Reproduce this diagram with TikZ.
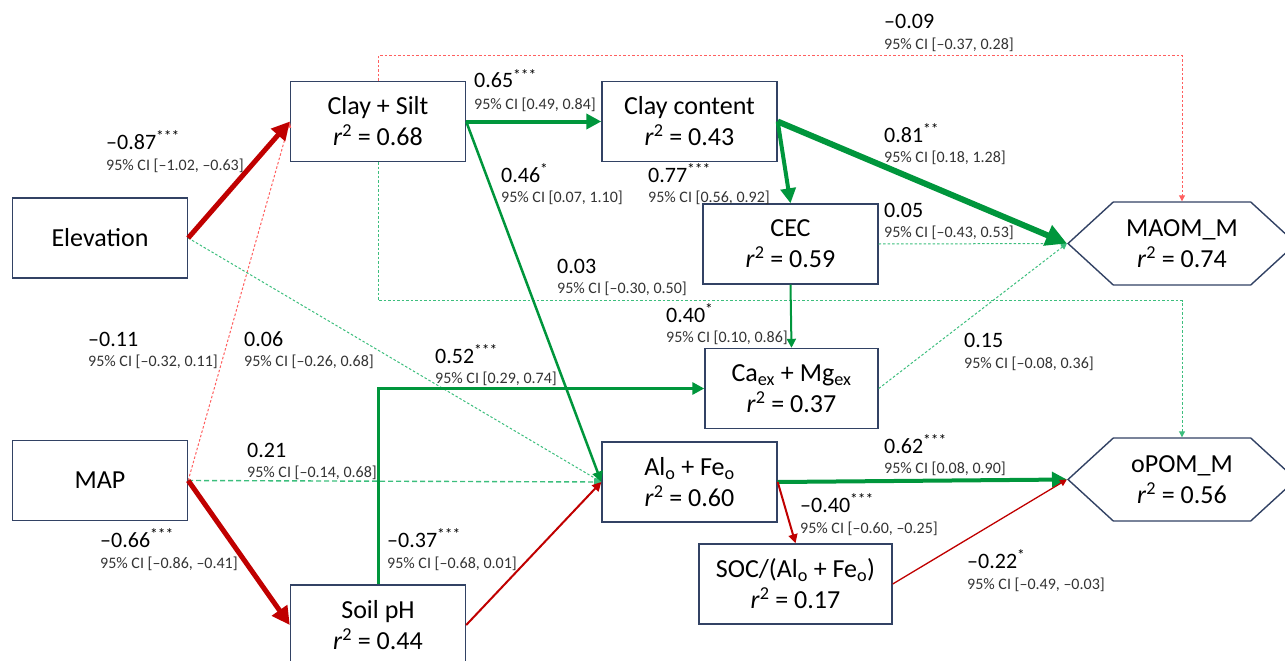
\documentclass[tikz,border=0pt]{standalone}
\usepackage{fontspec}
\setmainfont{Carlito}
\usetikzlibrary{arrows.meta, shapes.symbols}
\definecolor{boxline}{RGB}{50, 66, 100}
\definecolor{negred}{RGB}{192, 0, 0}
\definecolor{posgreen}{RGB}{0, 150, 60}
\definecolor{nsred}{RGB}{255, 95, 95}
\definecolor{nsgreen}{RGB}{60, 190, 125}

\begin{document}
\begin{tikzpicture}[x=1pt, y=-1pt,
    >={Triangle[length=3pt 3, width=3pt 3]},
    var/.style={
        draw=boxline, line width=1.4pt, fill=white,
        minimum width=175pt, minimum height=80pt, inner sep=0pt,
        align=center, font=\fontsize{26}{31}\selectfont
    },
    resp/.style={
        signal, signal to=east and west, signal pointer angle=85,
        draw=boxline, line width=1.4pt, fill=white,
        minimum width=228pt, minimum height=83pt, inner sep=0pt,
        align=center, font=\fontsize{26}{31}\selectfont
    },
    coef/.style={anchor=base west, inner sep=0pt, text=black,
        font=\fontsize{22}{26}\selectfont},
    cilab/.style={anchor=base west, inner sep=0pt, text=black!80,
        font=\fontsize{16}{19}\selectfont},
    negpath/.style={->, negred},
    pospath/.style={->, posgreen},
    nsneg/.style={->, nsred, line width=1pt, dash pattern=on 2.5pt off 2pt},
    nspos/.style={->, nsgreen, line width=1pt, dash pattern=on 2.5pt off 2pt},
]
    \useasboundingbox (0,0) rectangle (1285,661);

    % variables
    \node[var] (elev)   at (100,238)     {Elevation};
    \node[var] (map)    at (100,480.5)   {MAP};
    \node[var] (clsilt) at (378,121.5)   {Clay + Silt\\\textit{r}\textsuperscript{2} = 0.68};
    \node[var] (clay)   at (689.5,121.5) {Clay content\\\textit{r}\textsuperscript{2} = 0.43};
    \node[var] (cec)    at (790.5,244)   {CEC\\\textit{r}\textsuperscript{2} = 0.59};
    \node[var, minimum width=173pt] (camg) at (791.5,388.5)
        {Ca\textsubscript{ex} + Mg\textsubscript{ex}\\\textit{r}\textsuperscript{2} = 0.37};
    \node[var] (alfe)   at (689.5,482)   {Al\textsubscript{o} + Fe\textsubscript{o}\\\textit{r}\textsuperscript{2} = 0.60};
    \node[var, minimum width=193pt] (soc) at (795.5,584)
        {SOC/(Al\textsubscript{o} + Fe\textsubscript{o})\\\textit{r}\textsuperscript{2} = 0.17};
    \node[var] (ph)     at (378,625)     {Soil pH\\\textit{r}\textsuperscript{2} = 0.44};
    \node[resp] (maom)  at (1182,243.5)  {MAOM\_M\\\textit{r}\textsuperscript{2} = 0.74};
    \node[resp] (opom)  at (1182,479.5)  {oPOM\_M\\\textit{r}\textsuperscript{2} = 0.56};

    % non-significant paths
    \draw[nsneg] (map.east) -- (clsilt.west);
    \draw[nspos] (elev.east) -- (alfe.west);
    \draw[nspos, line width=1.4pt, dash pattern=on 5pt off 3pt] (map.east) -- (alfe.west);
    \draw[nsneg] (clsilt.north) -- ++(0,-25) -| (maom.north);
    \draw[nspos] (clsilt.south) -- ++(0,138.5) -| (opom.north);
    \draw[nspos] (cec.east) -- (maom.west);
    \draw[nspos] (camg.east) -- (maom.west);

    % significant paths
    \draw[negpath, line width=5pt]   (elev.east) -- (clsilt.west);
    \draw[negpath, line width=5pt]   (map.east) -- (ph.west);
    \draw[pospath, line width=3pt]   (ph.north) |- (camg.west);
    \draw[negpath, line width=2pt]   (ph.east) -- (alfe.west);
    \draw[pospath, line width=4pt]   (clsilt.east) -- (clay.west);
    \draw[pospath, line width=2.5pt] (clsilt.east) -- (alfe.west);
    \draw[pospath, line width=4pt]   (clay.east) -- (cec.north);
    \draw[pospath, line width=6pt]   (clay.east) -- (maom.west);
    \draw[pospath, line width=2pt]   (cec.south) -- (camg.north);
    \draw[pospath, line width=4pt]   (alfe.east) -- (opom.west);
    \draw[negpath, line width=2pt]   (alfe.east) -- (soc.north);
    \draw[negpath, line width=1.3pt] (soc.east) -- (opom.west);

    % path coefficients
    \node[coef]  (k1)   at (106,149) {--0.87\textsuperscript{***}};
    \node[cilab] (k1ci) at (106,170) {95\% CI [--1.02, --0.63]};
    \node[coef]  (k2)   at (474,88)  {0.65\textsuperscript{***}};
    \node[cilab] (k2ci) at (474,109) {95\% CI [0.49, 0.84]};
    \node[coef]  (k3)   at (501,182) {0.46\textsuperscript{*}};
    \node[cilab] (k3ci) at (501,202) {95\% CI [0.07, 1.10]};
    \node[coef]  (k4)   at (648,182) {0.77\textsuperscript{***}};
    \node[cilab] (k4ci) at (648,202) {95\% CI [0.56, 0.92]};
    \node[coef]  (k5)   at (884,29)  {--0.09};
    \node[cilab] (k5ci) at (884,50)  {95\% CI [--0.37, 0.28]};
    \node[coef]  (k6)   at (884,142) {0.81\textsuperscript{**}};
    \node[cilab] (k6ci) at (884,162) {95\% CI [0.18, 1.28]};
    \node[coef]  (k7)   at (884,217) {0.05};
    \node[cilab] (k7ci) at (884,237) {95\% CI [--0.43, 0.53]};
    \node[coef]  (k8)   at (88,346)  {--0.11};
    \node[cilab] (k8ci) at (88,366)  {95\% CI [--0.32, 0.11]};
    \node[coef]  (k9)   at (244,346) {0.06};
    \node[cilab] (k9ci) at (244,366) {95\% CI [--0.26, 0.68]};
    \node[coef]  (k10)  at (247,457) {0.21};
    \node[cilab] (k10ci) at (247,477) {95\% CI [--0.14, 0.68]};
    \node[coef]  (k11)  at (100,547) {--0.66\textsuperscript{***}};
    \node[cilab] (k11ci) at (100,568) {95\% CI [--0.86, --0.41]};
    \node[coef]  (k12)  at (387,547) {--0.37\textsuperscript{***}};
    \node[cilab] (k12ci) at (387,568) {95\% CI [--0.68, 0.01]};
    \node[coef]  (k13)  at (557,273) {0.03};
    \node[cilab] (k13ci) at (557,293) {95\% CI [--0.30, 0.50]};
    \node[coef]  (k14)  at (666,322) {0.40\textsuperscript{*}};
    \node[cilab] (k14ci) at (666,342) {95\% CI [0.10, 0.86]};
    \node[coef]  (k15)  at (435,363) {0.52\textsuperscript{***}};
    \node[cilab] (k15ci) at (435,383) {95\% CI [0.29, 0.74]};
    \node[coef]  (k16)  at (964,347) {0.15};
    \node[cilab] (k16ci) at (964,368) {95\% CI [--0.08, 0.36]};
    \node[coef]  (k17)  at (884,453) {0.62\textsuperscript{***}};
    \node[cilab] (k17ci) at (884,473) {95\% CI [0.08, 0.90]};
    \node[coef]  (k18)  at (800,512) {--0.40\textsuperscript{***}};
    \node[cilab] (k18ci) at (800,533) {95\% CI [--0.60, --0.25]};
    \node[coef]  (k19)  at (967,568) {--0.22\textsuperscript{*}};
    \node[cilab] (k19ci) at (967,589) {95\% CI [--0.49, --0.03]};

\end{tikzpicture}
\end{document}
